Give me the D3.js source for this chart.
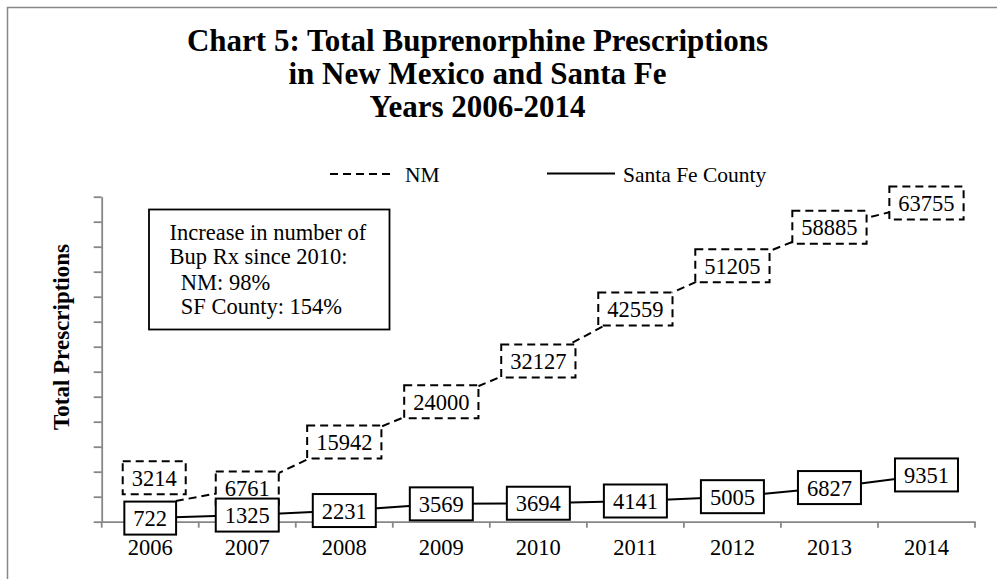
<!DOCTYPE html>
<html>
<head>
<meta charset="utf-8">
<script src="https://cdn.jsdelivr.net/npm/d3@7"></script>
<style>
  html, body { margin: 0; padding: 0; background: #fff; }
  svg { display: block; }
  text { font-family: "Liberation Serif", "Times New Roman", serif; fill: #000; }
</style>
</head>
<body>
<svg id="chart" width="997" height="579"></svg>
<script>
// ---- data ----
const years = ["2006", "2007", "2008", "2009", "2010", "2011", "2012", "2013", "2014"];
const nmValues = [3214, 6761, 15942, 24000, 32127, 42559, 51205, 58885, 63755];
const sfValues = [722, 1325, 2231, 3569, 3694, 4141, 5005, 6827, 9351];
const yTickValues = [0, 5000, 10000, 15000, 20000, 25000, 30000, 35000, 40000, 45000, 50000, 55000, 60000, 65000];
const seriesNames = ["NM", "Santa Fe County"];
const titleLines = ["Chart 5: Total Buprenorphine Prescriptions", "in New Mexico and Santa Fe", "Years 2006-2014"];
const noteLines = ["Increase in number of", "Bup Rx since 2010:", "  NM: 98%", "  SF County: 154%"];
const yAxisTitle = "Total Prescriptions";

// ---- layout ----
const svg = d3.select("#chart");
const plot = { left: 101.7, right: 975, top: 196.7, bottom: 521.7 };
const axisGray = "#878787";
const dash = "8,5";

// outer frame (extends past the picture on right/bottom)
svg.append("rect")
  .attr("x", 7.5).attr("y", 7.5).attr("width", 1000).attr("height", 600)
  .attr("fill", "none").attr("stroke", axisGray).attr("stroke-width", 1.5);

// scales
const x = d3.scaleBand().domain(years).range([plot.left, plot.right]).padding(0);
const cx = d => x(d) + x.bandwidth() / 2;
const y = d3.scaleLinear().domain([0, 65000]).range([plot.bottom, plot.top]);

// title
svg.append("g").selectAll("text").data(titleLines).join("text")
  .attr("x", 477.5).attr("y", (d, i) => 51 + i * 33.2)
  .attr("text-anchor", "middle")
  .style("font-size", "31px").style("font-weight", "bold")
  .text(d => d);

// legend
const leg = svg.append("g");
leg.append("line").attr("x1", 330).attr("x2", 395).attr("y1", 174).attr("y2", 174)
  .attr("stroke", "#000").attr("stroke-width", 2).attr("stroke-dasharray", dash);
leg.append("text").attr("x", 405).attr("y", 181.5).style("font-size", "21.5px").text(seriesNames[0]);
leg.append("line").attr("x1", 547).attr("x2", 615).attr("y1", 173.5).attr("y2", 173.5)
  .attr("stroke", "#000").attr("stroke-width", 2);
leg.append("text").attr("x", 623).attr("y", 181.5).style("font-size", "21.5px").text(seriesNames[1]);

// y axis
const yAxis = d3.axisLeft(y).tickValues(yTickValues).tickFormat("").tickSize(8).tickSizeOuter(0);
const gy = svg.append("g").attr("transform", `translate(${plot.left},0)`).call(yAxis);
gy.selectAll("path, line").attr("stroke", axisGray).attr("stroke-width", 1.8);

// x axis (labels centred in bands, ticks between categories)
const xAxis = d3.axisBottom(x).tickSize(0).tickSizeOuter(0).tickPadding(0);
const gx = svg.append("g").attr("transform", `translate(0,${plot.bottom})`).call(xAxis);
gx.select("path").attr("stroke", axisGray).attr("stroke-width", 1.8);
gx.selectAll("text").attr("y", 33).attr("dy", 0)
  .style("font-family", '"Liberation Serif", serif').style("font-size", "22.5px").attr("fill", "#000");
const edges = years.map(d => x(d)).concat([plot.right]);
gx.selectAll("line.edge").data(edges).join("line").attr("class", "edge")
  .attr("x1", d => d).attr("x2", d => d).attr("y1", 0).attr("y2", 6)
  .attr("stroke", axisGray).attr("stroke-width", 1.8);

// y axis title
svg.append("text")
  .attr("transform", `translate(69,337) rotate(-90)`)
  .attr("text-anchor", "middle")
  .style("font-size", "23px").style("font-weight", "bold")
  .text(yAxisTitle);

// note box
svg.append("rect").attr("x", 149).attr("y", 209.5).attr("width", 240.5).attr("height", 120)
  .attr("fill", "#fff").attr("stroke", "#000").attr("stroke-width", 1.8);
svg.append("g").selectAll("text").data(noteLines).join("text")
  .attr("x", 169.5).attr("y", (d, i) => [239.5, 263.5, 290, 314.3][i])
  .style("font-size", "22.5px").style("white-space", "pre").attr("xml:space", "preserve")
  .text(d => d);

// lines
const nmData = years.map((d, i) => ({ year: d, v: nmValues[i], i }));
const sfData = years.map((d, i) => ({ year: d, v: sfValues[i], i }));
const lineGen = d3.line().x(d => cx(d.year)).y(d => y(d.v));

svg.append("path").datum(nmData).attr("d", lineGen)
  .attr("fill", "none").attr("stroke", "#000").attr("stroke-width", 2).attr("stroke-dasharray", dash);
svg.append("path").datum(sfData).attr("d", lineGen)
  .attr("fill", "none").attr("stroke", "#000").attr("stroke-width", 2);

// data labels: boxes centred on points (the first NM label is lifted off the SF label)
function drawLabels(data, dashed, nudge) {
  const g = svg.append("g");
  const items = g.selectAll("g").data(data).join("g")
    .attr("transform", d => {
      const n = nudge(d);
      return `translate(${cx(d.year) + n[0]},${y(d.v) + n[1]})`;
    });
  const rects = items.append("rect");
  const texts = items.append("text")
    .attr("text-anchor", "middle").attr("y", 8)
    .style("font-size", "22.5px")
    .text(d => d.v);
  texts.each(function (d) { d.w = this.getComputedTextLength(); });
  rects.attr("x", d => -(d.w + 18) / 2).attr("y", -16.5)
    .attr("width", d => d.w + 18).attr("height", 33)
    .attr("fill", "#fff").attr("stroke", "#000").attr("stroke-width", 2)
    .attr("stroke-dasharray", dashed ? dash : null);
}
drawLabels(nmData, true, d => d.i === 0 ? [4, -28] : [0, 0]);
drawLabels(sfData, false, d => [0, 0]);
</script>
</body>
</html>
